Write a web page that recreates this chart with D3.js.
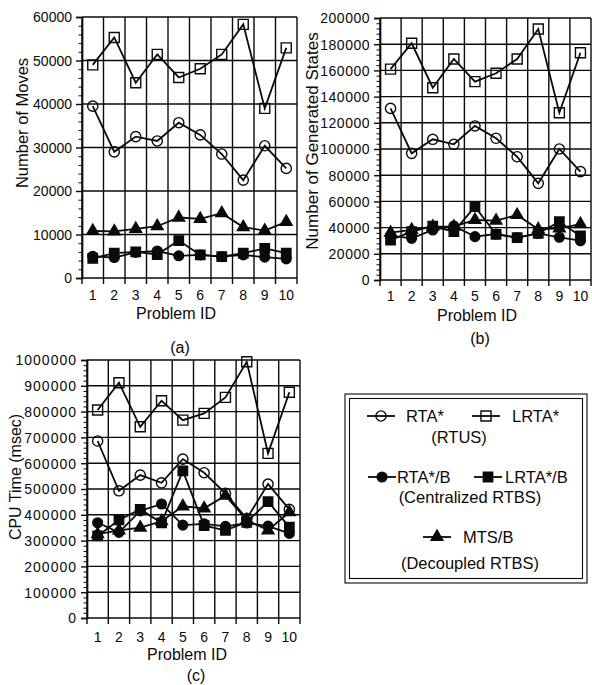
<!DOCTYPE html>
<html><head><meta charset="utf-8">
<script src="https://cdn.jsdelivr.net/npm/d3@7"></script>
<style>
body{margin:0;background:#fff}
svg{display:block}
text{font-family:"Liberation Sans",Arial,Helvetica,sans-serif;fill:#0a0a0a}
</style>
</head><body>
<svg id="c" width="592" height="685"></svg>
<script>
// ---- data ----
const problems = ["1","2","3","4","5","6","7","8","9","10"];

const movesTicks = [0,10000,20000,30000,40000,50000,60000];
const movesRTA   = [39500,29000,32500,31500,35700,32900,28500,22500,30400,25200];
const movesLRTA  = [49000,55300,44900,51400,46100,48100,51400,58300,39000,52900];
const movesRTAB  = [5000,4700,5900,6200,5100,5300,4900,5300,4800,4400];
const movesLRTAB = [4500,5700,6000,5400,8600,5300,4900,5700,6800,5700];
const movesMTSB  = [10800,10700,11300,11900,13900,13600,14900,11700,10900,12900];

const statesTicks = [0,20000,40000,60000,80000,100000,120000,140000,160000,180000,200000];
const statesRTA   = [131000,96700,107400,103600,117600,108200,94100,73800,100000,82700];
const statesLRTA  = [161000,180700,146800,168700,151400,157800,168700,191600,127700,173500];
const statesRTAB  = [33800,31800,38200,41200,33100,35100,32300,35600,32600,30000];
const statesLRTAB = [30500,36900,41200,36900,56000,34900,32300,35600,44500,33600];
const statesMTSB  = [36100,38200,40700,40700,45800,45300,49600,38700,39400,42700];

const cpuTicks = [0,100000,200000,300000,400000,500000,600000,700000,800000,900000,1000000];
const cpuRTA   = [686000,493000,554000,524000,616000,563000,483000,385000,519000,421000];
const cpuLRTA  = [806000,912000,741000,842000,767000,793000,855000,993000,638000,875000];
const cpuRTAB  = [369000,332000,415000,442000,360000,365000,355000,368000,356000,328000];
const cpuLRTAB = [318000,380000,421000,369000,570000,358000,340000,371000,451000,352000];
const cpuMTSB  = [325000,340000,350000,375000,433000,425000,474000,380000,340000,410000];

const legendNames = ["RTA*","LRTA*","RTA*/B","LRTA*/B","MTS/B"];
const legendGroups = ["(RTUS)","(Centralized RTBS)","(Decoupled RTBS)"];

// ---- drawing ----
const svg = d3.select("#c");
const INK = "#0a0a0a";

const shapes = {
  oc: {type: d3.symbolCircle, size: 82, fill: "none"},
  os: {type: d3.symbolSquare, size: 100, fill: "none"},
  fc: {type: d3.symbolCircle, size: 74, fill: INK},
  fs: {type: d3.symbolSquare, size: 88, fill: INK},
  ft: {type: d3.symbolTriangle, size: 60, fill: INK}
};

function drawMarker(g, key, cx, cy) {
  const s = shapes[key];
  g.append("path")
    .attr("d", d3.symbol().type(s.type).size(s.size)())
    .attr("transform", `translate(${cx},${cy})`)
    .attr("fill", s.fill)
    .attr("stroke", INK)
    .attr("stroke-width", 1.4);
}

function panel(o) {
  const g = svg.append("g");
  const x = d3.scaleBand().domain(problems).range([o.x0, o.x1]);
  const y = d3.scaleLinear().domain([0, o.max]).range([o.y0, o.y1]);
  const bounds = problems.map(p => x(p)).concat([o.x1]);

  // horizontal grid
  g.selectAll(".hg").data(o.ticks).join("line")
    .attr("x1", o.x0).attr("x2", o.x1)
    .attr("y1", d => y(d)).attr("y2", d => y(d))
    .attr("stroke", INK).attr("stroke-width", 1.4);
  // vertical grid + bottom tick marks
  g.selectAll(".vg").data(bounds).join("line")
    .attr("x1", d => d).attr("x2", d => d)
    .attr("y1", o.y1).attr("y2", o.y0 + 6)
    .attr("stroke", INK).attr("stroke-width", 1.4);

  // minor ticks
  const minor = [];
  for (let i = 0; i < o.ticks.length - 1; i++) {
    const step = (o.ticks[i+1] - o.ticks[i]) / 5;
    for (let k = 1; k < 5; k++) minor.push(o.ticks[i] + k * step);
  }
  const minAx = d3.axisLeft(y).tickValues(minor).tickSize(3.5).tickFormat("");
  g.append("g").attr("transform", `translate(${o.x0},0)`).call(minAx)
    .call(a => a.select(".domain").remove())
    .call(a => a.selectAll("line").attr("stroke", INK).attr("stroke-width", 1));

  // major axis
  const ax = d3.axisLeft(y).tickValues(o.ticks).tickSize(6).tickPadding(4).tickFormat(d3.format("d"));
  g.append("g").attr("transform", `translate(${o.x0},0)`).call(ax)
    .call(a => a.select(".domain").attr("stroke", INK).attr("stroke-width", 1.7))
    .call(a => a.selectAll("line").attr("stroke", INK).attr("stroke-width", 1.4))
    .call(a => a.selectAll("text").attr("font-size", 14).attr("fill", INK)
        .attr("letter-spacing", o.ls).attr("dy", "0.35em"));

  // x labels
  const bx = d3.axisBottom(x).tickSize(0).tickPadding(0);
  g.append("g").attr("transform", `translate(0,${o.y0})`).call(bx)
    .call(a => a.select(".domain").remove())
    .call(a => a.selectAll("text").attr("font-size", 14).attr("fill", INK)
        .attr("y", o.xlab).attr("dy", "0"));

  // titles
  g.append("text").attr("x", o.ptx).attr("y", o.pty)
    .attr("text-anchor", "middle").attr("font-size", 16).text("Problem ID");
  g.append("text").attr("transform", `translate(${o.ytx},${o.yty}) rotate(-90)`)
    .attr("text-anchor", "middle").attr("font-size", o.yfs).text(o.ytitle);
  g.append("text").attr("x", o.capx).attr("y", o.capy)
    .attr("text-anchor", "middle").attr("font-size", 16).text(o.cap);

  // series
  const cx = p => x(p) + x.bandwidth() / 2;
  o.series.forEach(s => {
    const line = d3.line().x((d, i) => cx(problems[i])).y(d => y(d));
    g.append("path").attr("d", line(s.data)).attr("fill", "none")
      .attr("stroke", INK).attr("stroke-width", 1.8);
  });
  o.series.forEach(s => {
    s.data.forEach((d, i) => drawMarker(g, s.shape, cx(problems[i]), y(d)));
  });
}

panel({x0: 82, x1: 297, y0: 278, y1: 17, max: 60000, ticks: movesTicks, ls: 0,
  xlab: 22, ptx: 176, pty: 319, ytx: 28, yty: 123, yfs: 16.5, ytitle: "Number of Moves",
  capx: 180, capy: 353, cap: "(a)",
  series: [
    {data: movesLRTA, shape: "os"}, {data: movesRTA, shape: "oc"},
    {data: movesMTSB, shape: "ft"}, {data: movesRTAB, shape: "fc"}, {data: movesLRTAB, shape: "fs"}
  ]});

panel({x0: 380, x1: 591, y0: 280, y1: 18, max: 200000, ticks: statesTicks, ls: 0.5,
  xlab: 21, ptx: 477, pty: 321, ytx: 318, yty: 141, yfs: 17, ytitle: "Number of Generated States",
  capx: 480, capy: 344, cap: "(b)",
  series: [
    {data: statesLRTA, shape: "os"}, {data: statesRTA, shape: "oc"},
    {data: statesMTSB, shape: "ft"}, {data: statesRTAB, shape: "fc"}, {data: statesLRTAB, shape: "fs"}
  ]});

panel({x0: 87, x1: 300, y0: 618, y1: 360, max: 1000000, ticks: cpuTicks, ls: 1,
  xlab: 24, ptx: 187, pty: 660, ytx: 21, yty: 477, yfs: 16, ytitle: "CPU Time (msec)",
  capx: 196, capy: 681, cap: "(c)",
  series: [
    {data: cpuLRTA, shape: "os"}, {data: cpuRTA, shape: "oc"},
    {data: cpuMTSB, shape: "ft"}, {data: cpuRTAB, shape: "fc"}, {data: cpuLRTAB, shape: "fs"}
  ]});

// ---- legend ----
const lg = svg.append("g");
lg.append("rect").attr("x", 345).attr("y", 394).attr("width", 242).attr("height", 189)
  .attr("fill", "none").attr("stroke", INK).attr("stroke-width", 1.1);
lg.append("rect").attr("x", 349.5).attr("y", 398.5).attr("width", 233).attr("height", 180)
  .attr("fill", "none").attr("stroke", INK).attr("stroke-width", 1.1);

const items = [
  {name: legendNames[0], shape: "oc", mx: 381, tx: 406, y: 416},
  {name: legendNames[1], shape: "os", mx: 486, tx: 512, y: 416},
  {name: legendNames[2], shape: "fc", mx: 382, tx: 397, y: 477},
  {name: legendNames[3], shape: "fs", mx: 488, tx: 505, y: 477},
  {name: legendNames[4], shape: "ft", mx: 437, tx: 463, y: 537}
];
items.forEach(it => {
  lg.append("line").attr("x1", it.mx - 14).attr("x2", it.mx + 14)
    .attr("y1", it.y).attr("y2", it.y).attr("stroke", INK).attr("stroke-width", 1.8);
  drawMarker(lg, it.shape, it.mx, it.y);
  lg.append("text").attr("x", it.tx).attr("y", it.y + 6).attr("font-size", 16.5).text(it.name);
});
[[legendGroups[0], 459, 443], [legendGroups[1], 470, 503], [legendGroups[2], 470, 569]].forEach(([t, x, y]) => {
  lg.append("text").attr("x", x).attr("y", y).attr("text-anchor", "middle").attr("font-size", 16.5).text(t);
});
</script>
</body></html>
